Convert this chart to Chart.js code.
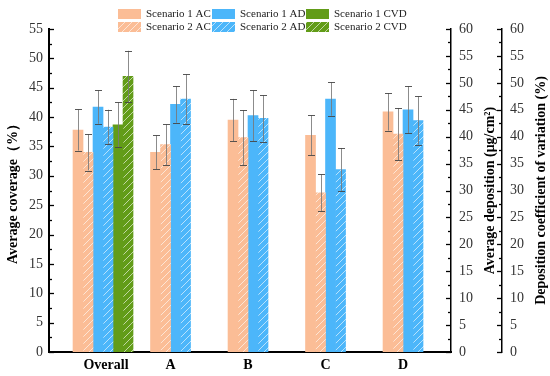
<!DOCTYPE html>
<html><head><meta charset="utf-8">
<script src="https://cdn.jsdelivr.net/npm/chart.js@4.4.1/dist/chart.umd.min.js"></script>
<style>html,body{margin:0;padding:0;background:#fff}#wrap{width:550px;height:376px}</style>
</head><body><div id="wrap"><canvas id="c" width="550" height="376"></canvas></div>
<script>
// ---- data ----
const categories = ['Overall', 'A', 'B', 'C', 'D'];
const s1AC     = [37.8, 34.0, 39.5, 36.9, 40.9];
const s1ACErr  = [3.5, 2.9, 3.6, 3.4, 3.2];
const s2AC     = [34.0, 35.3, 36.5, 27.1, 37.1];
const s2ACErr  = [3.1, 3.45, 4.7, 3.15, 4.45];
const s1AD     = [45.5, 46.0, 43.9, 47.0, 45.0];
const s1ADErr  = [3.1, 3.4, 4.7, 3.1, 4.4];
const s2AD     = [41.8, 47.0, 43.4, 33.9, 43.0];
const s2ADErr  = [3.2, 4.6, 4.3, 4.0, 4.5];
const s1CVD    = [42.2, null, null, null, null];
const s1CVDErr = [4.2, null, null, null, null];
const s2CVD    = [51.2, null, null, null, null];
const s2CVDErr = [4.75, null, null, null, null];
const coverageRange = [0, 55];
const depositionRange = [0, 60];
const cvRange = [0, 60];
const tickStep = 5;
const leftTitle = 'Average coverage（%）';
const rightTitle1 = 'Average deposition (μg/cm²)';
const rightTitle2 = 'Deposition coefficient of variation (%)';

// ---- styles ----
const FONT = "'Liberation Serif', 'Times New Roman', serif";
Chart.defaults.font.family = FONT;
const cAC = 'rgb(251,189,150)', cAD = 'rgb(76,182,250)', cCVD = 'rgb(98,156,24)';
function hatch(color) {
  const s = 7;
  const pc = document.createElement('canvas'); pc.width = s; pc.height = s;
  const g = pc.getContext('2d');
  g.fillStyle = color; g.fillRect(0, 0, s, s);
  g.strokeStyle = 'rgba(255,255,255,0.6)'; g.lineWidth = 1;
  g.beginPath();
  g.moveTo(0, s); g.lineTo(s, 0);
  g.moveTo(-1, 1); g.lineTo(1, -1);
  g.moveTo(s - 1, s + 1); g.lineTo(s + 1, s - 1);
  g.stroke();
  return g.createPattern(pc, 'repeat');
}

function ds(label, data, err, color, hatched, axis) {
  return { label, data, errors: err, yAxisID: axis,
    backgroundColor: hatched ? hatch(color) : color,
    legendFill: hatched ? hatch(color) : color,
    borderWidth: 0, barThickness: 10 };
}

const datasets = [
  ds('Scenario 1 AC', s1AC, s1ACErr, cAC, false, 'y'),
  ds('Scenario 2 AC', s2AC, s2ACErr, cAC, true, 'y'),
  ds('Scenario 1 AD', s1AD, s1ADErr, cAD, false, 'y1'),
  ds('Scenario 2 AD', s2AD, s2ADErr, cAD, true, 'y1'),
  ds('Scenario 1 CVD', s1CVD, s1CVDErr, cCVD, false, 'y2'),
  ds('Scenario 2 CVD', s2CVD, s2CVDErr, cCVD, true, 'y2'),
];

const legendRows = [[0, 2, 4], [1, 3, 5]];

const customDraw = {
  id: 'customDraw',
  afterDatasetsDraw(chart) {
    const ctx = chart.ctx;
    ctx.save();
    chart.data.datasets.forEach((d, di) => {
      const meta = chart.getDatasetMeta(di);
      const sc = chart.scales[d.yAxisID];
      meta.data.forEach((el, i) => {
        const v = d.data[i], e = d.errors[i];
        if (v == null || e == null) return;
        const x = Math.round(el.x) + 0.5;
        const yt = sc.getPixelForValue(v + e), yb = sc.getPixelForValue(v - e);
        ctx.strokeStyle = 'rgba(120,120,120,0.85)'; ctx.lineWidth = 1;
        ctx.beginPath(); ctx.moveTo(x, yt); ctx.lineTo(x, yb); ctx.stroke();
        ctx.strokeStyle = 'rgba(70,70,70,0.9)';
        ctx.beginPath();
        ctx.moveTo(x - 3.5, Math.round(yt) + 0.5); ctx.lineTo(x + 3.5, Math.round(yt) + 0.5);
        ctx.moveTo(x - 3.5, Math.round(yb) + 0.5); ctx.lineTo(x + 3.5, Math.round(yb) + 0.5);
        ctx.stroke();
      });
    });
    ctx.restore();
  },
  afterDraw(chart) {
    const ctx = chart.ctx;
    const area = chart.chartArea;
    ctx.save();
    // inward ticks
    const drawTicks = (sc, x, dir) => {
      ctx.strokeStyle = '#000'; ctx.lineWidth = 1.3;
      for (let v = sc.min; v <= sc.max + 1e-6; v += tickStep / 2) {
        const major = Math.abs(v / tickStep - Math.round(v / tickStep)) < 1e-6;
        const y = Math.round(sc.getPixelForValue(v)) + 0.5;
        ctx.beginPath(); ctx.moveTo(x, y); ctx.lineTo(x + dir * (major ? 5 : 3), y); ctx.stroke();
      }
    };
    drawTicks(chart.scales.y, area.left, 1);
    drawTicks(chart.scales.y1, chart.scales.y1.left, -1);
    drawTicks(chart.scales.y2, chart.scales.y2.left, -1);

    // category labels, centred under each group of bars
    ctx.fillStyle = '#000';
    ctx.font = "bold 14px " + FONT;
    ctx.textAlign = 'center'; ctx.textBaseline = 'middle';
    categories.forEach((c, i) => {
      let s = 0, n = 0;
      chart.data.datasets.forEach((d, di) => {
        if (d.data[i] == null) return;
        s += chart.getDatasetMeta(di).data[i].x; n++;
      });
      ctx.fillText(c, s / n + (i === 0 ? 3 : 0), area.bottom + 13);
    });

    // right axis titles (read bottom to top)
    ctx.font = "bold 14px " + FONT;
    const cy = (area.top + area.bottom) / 2;
    [[rightTitle1, chart.scales.y1.right - 12], [rightTitle2, chart.scales.y2.right - 9]].forEach(([t, x]) => {
      ctx.save(); ctx.translate(x, cy); ctx.rotate(-Math.PI / 2);
      ctx.fillText(t, 0, 0); ctx.restore();
    });

    // legend
    ctx.font = "11px " + FONT;
    ctx.textAlign = 'left';
    const lx = 118, colW = 94, rowY = [14, 27];
    legendRows.forEach((row, r) => {
      row.forEach((di, c) => {
        const d = chart.data.datasets[di];
        const x = lx + c * colW, y = rowY[r];
        ctx.fillStyle = d.legendFill;
        ctx.fillRect(x, y - 5, 23, 10);
        ctx.fillStyle = '#222';
        ctx.fillText(d.label, x + 28, y);
      });
    });
    ctx.restore();
  }
};

function yAxis(pos, range, width, borderW, pad) {
  return {
    position: pos, min: range[0], max: range[1],
    afterFit(s) { s.width = width; },
    grid: { display: false, drawTicks: false },
    border: { display: true, color: '#000', width: borderW },
    ticks: { stepSize: tickStep, padding: pad, color: '#333', font: { size: 14 } }
  };
}

const yLeft = yAxis('left', coverageRange, 49, 2, 6);
yLeft.title = { display: true, text: leftTitle, color: '#000', font: { size: 14, weight: 'bold' }, padding: { top: 5, bottom: 0 } };

new Chart(document.getElementById('c'), {
  type: 'bar',
  data: { labels: categories.map((c, i) => i), datasets },
  options: {
    responsive: false, animation: false, devicePixelRatio: 1,
    layout: { padding: { top: 29, left: 0, right: 0, bottom: 0 } },
    plugins: { legend: { display: false }, tooltip: { enabled: false } },
    datasets: { bar: { grouped: true, skipNull: false } },
    scales: {
      x: {
        type: 'linear', min: -0.697, max: 4.49, offset: false,
        afterFit(s) { s.height = 24; },
        grid: { display: false, drawTicks: false, offset: false },
        border: { display: true, color: '#000', width: 2 },
        ticks: { display: false }
      },
      y: yLeft,
      y1: yAxis('right', depositionRange, 51, 1.5, 8),
      y2: yAxis('right', cvRange, 48, 1.5, 8)
    }
  },
  plugins: [customDraw]
});
</script>
</body></html>
